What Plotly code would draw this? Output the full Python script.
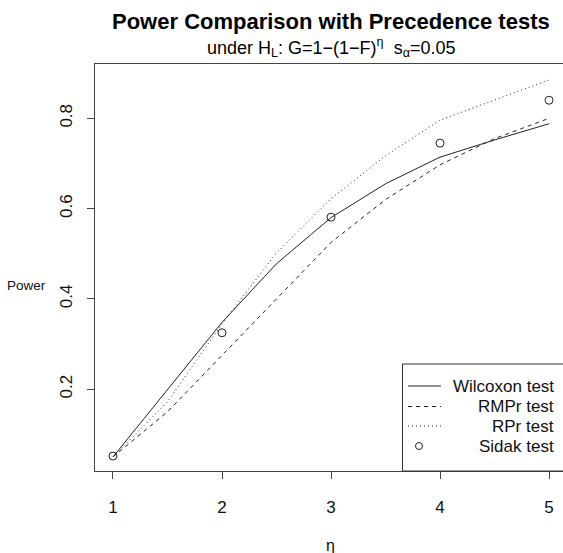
import plotly.graph_objects as go

# ---- data ----
eta_grid = [1, 1.5, 2, 2.5, 3, 3.5, 4, 4.5, 5]
wilcoxon = [0.05, 0.20, 0.348, 0.478, 0.58, 0.655, 0.714, 0.752, 0.788]
rmpr     = [0.05, 0.15, 0.275, 0.40, 0.525, 0.62, 0.697, 0.755, 0.80]
rpr      = [0.05, 0.172, 0.345, 0.502, 0.622, 0.717, 0.796, 0.84, 0.885]
eta_pts  = [1, 2, 3, 4, 5]
sidak    = [0.052, 0.325, 0.581, 0.745, 0.84]

series_names = ["Wilcoxon test", "RMPr test", "RPr test", "Sidak test"]
x_ticks = [1, 2, 3, 4, 5]
y_ticks = [0.2, 0.4, 0.6, 0.8]

W, H = 563, 553
L, R, T, B = 95, 0, 64, 82
PW, PH = W - L - R, H - T - B

def px(x):
    return (x - L) / PW

def py(y):
    return (H - B - y) / PH

LINE_C = "#222222"
FONT = "Liberation Sans, Arial, sans-serif"

fig = go.Figure()
fig.add_trace(go.Scatter(x=eta_grid, y=wilcoxon, mode="lines", name=series_names[0],
                         line=dict(color=LINE_C, width=1)))
fig.add_trace(go.Scatter(x=eta_grid, y=rmpr, mode="lines", name=series_names[1],
                         line=dict(color=LINE_C, width=1, dash="4px,4px")))
fig.add_trace(go.Scatter(x=eta_grid, y=rpr, mode="lines", name=series_names[2],
                         line=dict(color=LINE_C, width=1, dash="1px,3px")))
fig.add_trace(go.Scatter(x=eta_pts, y=sidak, mode="markers", name=series_names[3],
                         marker=dict(symbol="circle-open", size=8, color=LINE_C,
                                     line=dict(width=1, color=LINE_C))))

axis_common = dict(showgrid=False, zeroline=False, showline=True, linecolor="#444",
                   linewidth=1, ticks="outside", ticklen=7, tickcolor="#444",
                   tickfont=dict(family=FONT, size=17, color="#111"))

fig.update_layout(
    width=W, height=H,
    margin=dict(l=L, r=R, t=T, b=B),
    paper_bgcolor="white", plot_bgcolor="white",
    showlegend=False,
    xaxis=dict(range=[0.835, 5.128], tickvals=x_ticks, ticktext=[str(v) for v in x_ticks],
               mirror=True, ticklabelstandoff=14, **axis_common),
    yaxis=dict(range=[0.0188, 0.9203], tickvals=y_ticks, ticktext=[str(v) for v in y_ticks],
               tickangle=-90, ticklabelstandoff=8, **axis_common),
)

annos = []
annos.append(dict(text="<b>Power Comparison with Precedence tests</b>", x=px(331), y=py(21),
                  xref="paper", yref="paper", showarrow=False, xanchor="center", yanchor="middle",
                  font=dict(family=FONT, size=22, color="#000")))
annos.append(dict(text="under H<sub>L</sub>: G=1\u2212(1\u2212F)<sup>\u03b7</sup>  s<sub>\u03b1</sub>=0.05",
                  x=px(331), y=py(48), xref="paper", yref="paper", showarrow=False,
                  xanchor="center", yanchor="middle", font=dict(family=FONT, size=18, color="#000")))
annos.append(dict(text="Power", x=px(26), y=py(285), xref="paper", yref="paper", showarrow=False,
                  xanchor="center", yanchor="middle", font=dict(family=FONT, size=13.5, color="#111")))
annos.append(dict(text="\u03b7", x=px(330), y=py(545), xref="paper", yref="paper", showarrow=False,
                  xanchor="center", yanchor="middle", font=dict(family=FONT, size=16, color="#111")))

# custom legend (right-aligned labels like R)
shapes = [dict(type="rect", xref="paper", yref="paper", x0=px(402.5), x1=px(575), y0=py(471), y1=py(364),
               line=dict(color="#333", width=1), fillcolor="rgba(0,0,0,0)", layer="above")]
leg_y = [386, 406.5, 426, 446]
dashes = ["solid", "4px,4px", "1px,3px"]
for i, name in enumerate(series_names):
    if i < 3:
        shapes.append(dict(type="line", xref="paper", yref="paper", x0=px(408), x1=px(441),
                           y0=py(leg_y[i]), y1=py(leg_y[i]), layer="above",
                           line=dict(color=LINE_C, width=1, dash=dashes[i])))
    annos.append(dict(text=name, x=px(556), y=py(leg_y[i]), xref="paper", yref="paper",
                      showarrow=False, xanchor="right", yanchor="middle",
                      font=dict(family=FONT, size=17, color="#111")))
fig.update_layout(shapes=shapes, annotations=annos)
# legend circle symbol for Sidak
fig.add_trace(go.Scatter(x=[px(419)], y=[py(leg_y[3])], xaxis="x2", yaxis="y2", mode="markers",
                         marker=dict(symbol="circle-open", size=7, color=LINE_C, line=dict(width=1)),
                         hoverinfo="skip", showlegend=False, cliponaxis=False))
fig.update_layout(xaxis2=dict(overlaying="x", range=[0, 1], visible=False, anchor="y2"),
                  yaxis2=dict(overlaying="y", range=[0, 1], visible=False, anchor="x2"))

fig.write_html("out.html", config={"displayModeBar": False},
               post_script="document.body.style.margin='0';document.body.style.overflow='hidden';")
